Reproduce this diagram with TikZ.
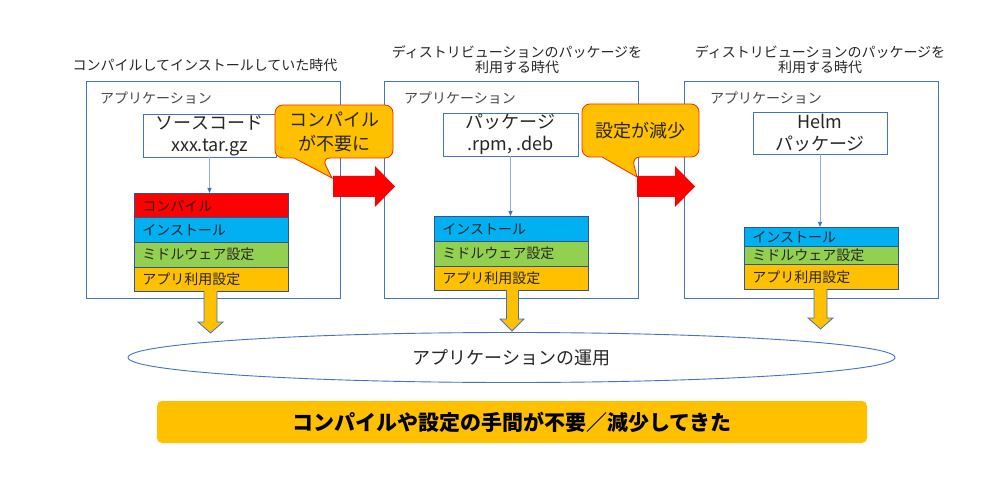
\documentclass[tikz,border=0pt]{standalone}
\usepackage{fontspec}
\setmainfont{Noto Sans CJK JP}
\usetikzlibrary{shapes.geometric,arrows.meta}
\definecolor{pblue}{HTML}{4472C4}
\definecolor{sblue}{HTML}{2F5597}
\definecolor{lblue}{HTML}{8FAADC}
\definecolor{gold}{HTML}{FFC000}
\definecolor{cred}{HTML}{FF0000}
\definecolor{ccyan}{HTML}{00B0F0}
\definecolor{cgreen}{HTML}{92D050}
\definecolor{txt}{HTML}{262626}
\tikzset{
  panel/.style={draw=pblue, line width=0.9pt, fill=white, minimum width=254pt, minimum height=217pt, inner sep=0},
  ttl/.style={text=txt, font=\fontsize{14}{15}\selectfont, align=center, inner sep=0},
  applbl/.style={text=txt!85, font=\fontsize{14}{15}\selectfont, anchor=west, inner sep=0},
  srcbox/.style={draw=pblue, line width=0.9pt, fill=white, align=center, text=txt, font=\fontsize{18}{22}\selectfont, inner sep=0},
  row/.style={draw=sblue, line width=0.8pt, anchor=north west, inner xsep=8pt, inner ysep=0pt, text width=138pt, align=left, text=txt, font=\fontsize{14}{15}\selectfont},
  thin/.style={draw=lblue, line width=0.8pt, -{Triangle[length=5pt,width=4pt,fill=pblue,color=pblue]}},
  callbg/.style={fill=gold, draw=cred!80!gold, line width=0.8pt},
  calltxt/.style={text=txt, font=\fontsize{18}{24}\selectfont, align=center, inner sep=0},
  redarrow/.style={fill=cred, draw=none},
  goldarrow/.style={fill=gold, draw=pblue, line width=0.8pt, line join=miter},
}
\begin{document}
\begin{tikzpicture}[x=1pt,y=-1pt]
\useasboundingbox (0,0) rectangle (1000,494);
\fill[white] (0,0) rectangle (1000,494);

% titles
\node[ttl] (t1) at (205,65) {コンパイルしてインストールしていた時代};
\node[ttl] (t2) at (517,59.5) {ディストリビューションのパッケージを\\利用する時代};
\node[ttl] (t3) at (820,59.5) {ディストリビューションのパッケージを\\利用する時代};

% panels
\node[panel] (p1) at (213,189.5) {};
\node[panel] (p2) at (511.5,189.5) {};
\node[panel] (p3) at (811.5,189.5) {};

\node[applbl] (a1) at (100,98) {アプリケーション};
\node[applbl] (a2) at (404,98) {アプリケーション};
\node[applbl] (a3) at (710,98) {アプリケーション};

% source boxes
\node[srcbox, minimum width=133pt, minimum height=43pt] (s1) at (209.5,135.5) {ソースコード\\xxx.tar.gz};
\node[srcbox, minimum width=135pt, minimum height=43pt] (s2) at (510.5,134.5) {パッケージ\\.rpm, .deb};
\node[srcbox, minimum width=134pt, minimum height=42pt] (s3) at (820,133) {Helm\\パッケージ};

% stack 1
\node[row, fill=cred, minimum height=24.5pt] (r11) at (134,193) {コンパイル};
\node[row, fill=ccyan, minimum height=24.5pt] (r12) at (134,217.5) {インストール};
\node[row, fill=cgreen, minimum height=24.5pt] (r13) at (134,242) {ミドルウェア設定};
\node[row, fill=gold, minimum height=24.5pt] (r14) at (134,266.5) {アプリ利用設定};

% stack 2
\node[row, fill=ccyan, minimum height=25pt] (r22) at (434,216) {インストール};
\node[row, fill=cgreen, minimum height=24.5pt] (r23) at (434,241) {ミドルウェア設定};
\node[row, fill=gold, minimum height=24.5pt] (r24) at (434,265.5) {アプリ利用設定};

% stack 3
\node[row, fill=ccyan, minimum height=19pt] (r32) at (744,227) {インストール};
\node[row, fill=cgreen, minimum height=18pt] (r33) at (744,246) {ミドルウェア設定};
\node[row, fill=gold, minimum height=25pt] (r34) at (744,264) {アプリ利用設定};

% thin arrows
\draw[thin] (s1.south) -- (s1.south |- r11.north);
\draw[thin] (s2.south) -- (s2.south |- r22.north);
\draw[thin] (s3.south) -- (s3.south |- r32.north);

% callout 1
\draw[callbg, rounded corners=8pt] (275,105) -- (393,105) -- (393,158) -- (322,158) [sharp corners] -- (332,178) -- (294,158) [rounded corners=8pt] -- (275,158) -- cycle;
\node[calltxt] (c1) at (334,131.5) {コンパイル\\が不要に};
% callout 2
\draw[callbg, rounded corners=8pt] (582,104) -- (699,104) -- (699,157) -- (632,157) [sharp corners] -- (637,177) -- (602,157) [rounded corners=8pt] -- (582,157) -- cycle;
\node[calltxt] (c2) at (640.5,130.5) {設定が減少};

% red arrows
\fill[redarrow] (333,176) -- (375,176) -- (375,166) -- (395,186.5) -- (375,207) -- (375,197) -- (333,197) -- cycle;
\fill[redarrow] (637,176) -- (675,176) -- (675,166) -- (695,186.5) -- (675,207) -- (675,197) -- (637,197) -- cycle;

% ellipse
\node[ellipse, draw=pblue, line width=0.9pt, fill=white, minimum width=767pt, minimum height=50pt, inner sep=0, text=txt, font=\fontsize{18}{20}\selectfont] (op) at (511.5,357.5) {アプリケーションの運用};

% gold down arrows
\coordinate (g1) at (210.5,291);
\coordinate (g2) at (512.5,290);
\coordinate (g3) at (820,289);
\draw[goldarrow] (204,291) -- (204,322) -- (198,322) -- (210.5,333) -- (223,322) -- (217,322) -- (217,291);
\draw[goldarrow] (506.5,290) -- (506.5,319) -- (500,319) -- (512,331) -- (524,319) -- (518.5,319) -- (518.5,290);
\draw[goldarrow] (814,289) -- (814,318) -- (808,318) -- (820.5,329) -- (833,318) -- (827,318) -- (827,289);

% bottom bar
\node[fill=gold, rounded corners=5pt, minimum width=710pt, minimum height=42pt, inner sep=0, text=black, font=\bfseries\fontsize{21}{24}\selectfont] (bar) at (512,422) {コンパイルや設定の手間が不要／減少してきた};
\end{tikzpicture}
\end{document}
